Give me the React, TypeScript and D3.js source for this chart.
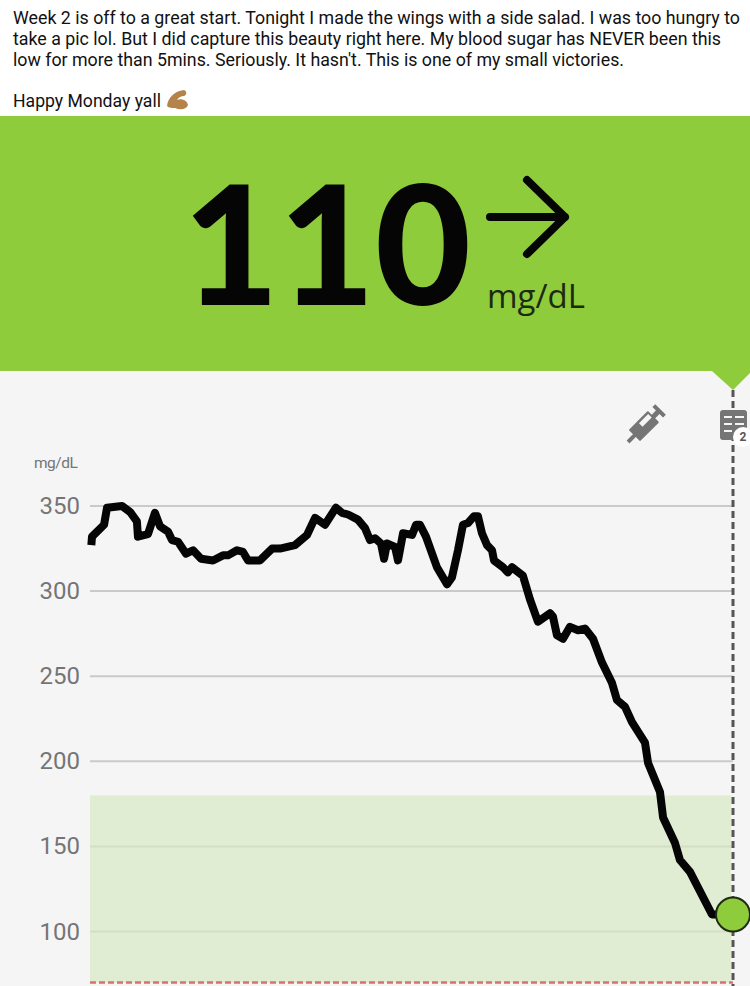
/**
 * Glucose sensor screenshot - D3 scales and line shape in JSX
 */

import * as d3 from 'd3';

const postLines = [
  'Week 2 is off to a great start. Tonight I made the wings with a side salad. I was too hungry to',
  'take a pic lol. But I did capture this beauty right here. My blood sugar has NEVER been this',
  'low for more than 5mins. Seriously. It hasn\'t. This is one of my small victories.',
];
const postWidths = [727, 708, 611];
const postFooter = 'Happy Monday yall';

const currentValue = 110;
const unitLabel = 'mg/dL';
const yTicks = [350, 300, 250, 200, 150, 100];
const targetRange = [70, 180];

// minutes over the 8 hour window
const minutes = [
  1, 1.5, 10.5, 12.7, 23.9, 29.9, 35, 35.8, 43.3, 48.5, 52.3, 58.2, 61.2, 65.7, 71.7, 76.9, 82.9, 91.8, 99.3,
  103, 109.7, 114.2, 118, 126.9, 135.9, 141.8, 153, 162, 168, 171.7, 175.4, 183.6, 188.1, 192.6, 200, 205.3,
  209, 212.8, 217.2, 219.5, 221.7, 227.7, 229.9, 233.7, 240.4, 243.4, 246.3, 250.8, 259, 266.5, 270.2, 274.7,
  278.4, 282.2, 286.7, 289.6, 292.6, 296.4, 300.1, 301.6, 308.3, 312, 315, 323.2, 328.5, 334.4, 343.4, 345.6,
  348.6, 353.1, 358.3, 364.3, 369.5, 375.5, 382.2, 389.7, 393.4, 399.4, 404.6, 414.3, 416.6, 425.5, 427.8,
  436.7, 440.4, 447.9, 464.3, 480,
];
const glucose = [
  327, 332, 339, 349, 350, 346.5, 341, 332, 333.5, 346, 338, 335, 330, 329, 322, 324, 319, 318, 321,
  321, 324, 323, 318, 318, 325, 325, 327, 333, 343, 341, 339, 349, 346, 345, 342, 337,
  330, 331, 328, 319, 328, 326, 318, 334, 333, 339, 339, 332, 314, 304, 308, 324,
  339, 340, 344, 344, 334, 327, 324, 318, 314, 311, 314, 309, 295, 282, 287, 285,
  274, 272, 279, 277, 278, 272, 258, 246, 236, 232, 223, 211, 199, 182, 167,
  152, 142, 135, 110, 110,
];

const x = d3.scaleLinear().domain([0, 480]).range([90, 733]);
const y = d3.scaleLinear().domain([100, 350]).range([931.5, 506]);

const lineGen = d3.line<number>()
  .x((_d, i) => x(minutes[i]))
  .y(d => y(d));

const GREEN = '#8fcc3c';
const GREY = '#757575';

export default function App() {
  return (
    <svg
      width={750}
      height={986}
      viewBox="0 0 750 986"
      style={{ position: 'fixed', left: 0, top: 0, fontFamily: 'Roboto, sans-serif' }}
    >
      <rect width={750} height={986} fill="#fff" />

      {/* post text */}
      <g fontSize={18} fill="#111">
        {postLines.map((t, i) => (
          <text key={i} x={13} y={24 + i * 21} textLength={postWidths[i]} lengthAdjust="spacingAndGlyphs">{t}</text>
        ))}
        <text x={13} y={107} textLength={148} lengthAdjust="spacingAndGlyphs">{postFooter}</text>
      </g>
      {/* flexed arm emoji */}
      <path
        d="M167 106 C168 98 174 91 184 90 C187 91 187 95 184 96 C181 96 179 97 177 100 C181 98 187 100 188 105 C186 110 180 110 175 108 C172 108 169 108 167 106 Z"
        fill="#b5824a"
      />

      {/* banner */}
      <rect y={116} width={750} height={255} fill={GREEN} />
      <rect y={371} width={750} height={615} fill="#f5f5f5" />
      <path d="M712 371 L733 390 L752 371 Z" fill={GREEN} />
      <text
        x={327}
        y={304}
        textAnchor="middle"
        fontFamily="Lato, sans-serif"
        fontWeight={900}
        fontSize={172}
        textLength={288}
        lengthAdjust="spacingAndGlyphs"
        fill="#050505"
        style={{ transformBox: 'fill-box', transformOrigin: '50% 100%', transform: 'scaleY(0.97)' }}
      >
        {currentValue}
      </text>
      <path
        d="M490 217 H565 M527 180 L565 217 L527 254"
        fill="none"
        stroke="#050505"
        strokeWidth={8}
        strokeLinecap="round"
        strokeLinejoin="round"
      />
      <text x={487} y={308} fontFamily="'Open Sans', sans-serif" fontSize={33} fill="#1c2a10">{unitLabel}</text>

      {/* target band */}
      <rect
        x={x(0)}
        y={y(targetRange[1])}
        width={x(480) - x(0) - 2}
        height={y(targetRange[0]) - y(targetRange[1])}
        fill="#e1edd3"
      />

      {/* y axis */}
      <text x={34} y={468} fontSize={15.5} fill={GREY} letterSpacing={-0.5}>{unitLabel}</text>
      {yTicks.map(t => (
        <g key={t}>
          <line
            x1={x(0)}
            x2={x(480)}
            y1={y(t)}
            y2={y(t)}
            stroke={t <= 150 ? '#d2dfc4' : '#cacaca'}
            strokeWidth={2}
          />
          <text x={80} y={y(t) + 8} textAnchor="end" fontSize={24} fill={GREY}>{t}</text>
        </g>
      ))}

      <line
        x1={x(0)}
        x2={x(480)}
        y1={y(targetRange[0])}
        y2={y(targetRange[0])}
        stroke="#d9726c"
        strokeWidth={2.5}
        strokeDasharray="6 3"
      />
      <line x1={733} x2={733} y1={390} y2={986} stroke="#555" strokeWidth={3} strokeDasharray="7 4" />

      {/* insulin icon */}
      <g transform="translate(645 425) rotate(-45)" fill={GREY}>
        <rect x={-15} y={-8} width={27} height={16} rx={1} />
        <rect x={-24} y={-2} width={10} height={4} />
        <rect x={11} y={-2.5} width={8} height={5} />
        <rect x={18} y={-7.5} width={4} height={15} />
        <rect x={-3} y={-5.5} width={13} height={5} fill="#f5f5f5" />
      </g>

      {/* notes icon */}
      <rect x={720} y={410} width={27} height={30} rx={3} fill={GREY} />
      <g stroke="#f5f5f5" strokeWidth={2}>
        <line x1={724} x2={732} y1={417} y2={417} />
        <line x1={735} x2={744} y1={417} y2={417} />
        <line x1={724} x2={732} y1={424} y2={424} />
        <line x1={735} x2={744} y1={424} y2={424} />
        <line x1={724} x2={732} y1={431} y2={431} />
      </g>
      <circle cx={743} cy={437} r={10} fill="#fff" />
      <text x={743} y={441} textAnchor="middle" fontSize={12} fontWeight={700} fill="#555">2</text>

      {/* glucose trace */}
      <path
        d={lineGen(glucose) ?? ''}
        fill="none"
        stroke="#050505"
        strokeWidth={8}
        strokeLinejoin="round"
      />
      <circle cx={x(480)} cy={y(currentValue)} r={17} fill={GREEN} stroke="#1f2a12" strokeWidth={2} />
    </svg>
  );
}
